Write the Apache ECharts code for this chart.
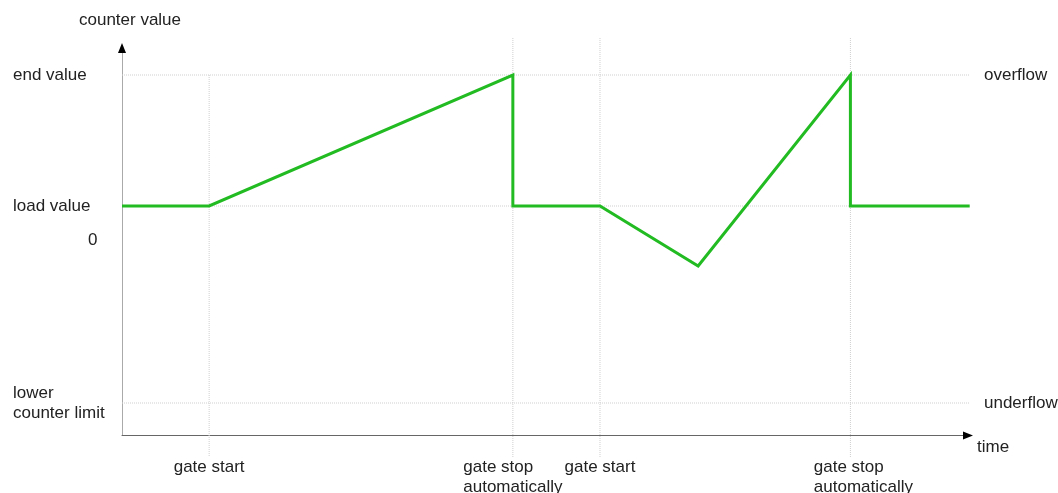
<!DOCTYPE html>
<html>
<head>
<meta charset="utf-8">
<script src="https://cdn.jsdelivr.net/npm/echarts@6/dist/echarts.min.js"></script>
<style>html,body{margin:0;padding:0;background:#fff;}#c{width:1058px;height:493px;}</style>
</head>
<body>
<div id="c"></div>
<script>
// ---- data ----
const times  = [0, 10.3, 46.2, 46.2, 56.5, 68.1, 86.1, 86.1, 100.2];
const counts = [3.4, 3.4, 16.5, 3.4, 3.4, -2.6, 16.5, 3.4, 3.4];

const yTickValues = [16.5, 3.4, 0, -16.3];
const yTickLabels = ['end value', 'load value', '0', 'lower\ncounter limit'];
const rightTickValues = [16.5, -16.3];
const rightTickLabels = ['overflow', 'underflow'];
const xTickValues = [10.3, 46.2, 56.5, 86.1];
const xTickLabels = ['gate start', 'gate stop\nautomatically', 'gate start', 'gate stop\nautomatically'];

const hGuideValues = [16.5, 3.4, -16.3];
const hGuideRange = [0, 100.2];
const vGuideValues = [10.3, 46.2, 56.5, 86.1];
const vGuideTops = [16.5, 20.2, 20.2, 20.2];
const vGuideBottom = -21.7;

const yMin = -19.55, yMax = 19.2, xMin = 0, xMax = 100;

// ---- styles ----
const FONT = "'Liberation Sans', Arial, sans-serif";
const TXT = '#222';
const GUIDE = { color: '#cfcfcf', width: 1, type: 'dotted' };
const xLabelStyleKeys = ['l', 'l', 'l', 'r'];

const chart = echarts.init(document.getElementById('c'));

const guideSeries = [];
hGuideValues.forEach(v => guideSeries.push({
  type: 'line', symbol: 'none', silent: true, clip: false, z: 1,
  lineStyle: GUIDE, data: [[hGuideRange[0], v], [hGuideRange[1], v]]
}));
vGuideValues.forEach((x, i) => guideSeries.push({
  type: 'line', symbol: 'none', silent: true, clip: false, z: 1,
  lineStyle: GUIDE, data: [[x, vGuideTops[i]], [x, vGuideBottom]]
}));

const option = {
  animation: false,
  textStyle: { fontFamily: FONT },
  grid: { left: 122, right: 90, top: 48, bottom: 57.5, outerBoundsMode: 'none' },
  xAxis: [{
    type: 'value', min: xMin, max: xMax,
    name: 'time', nameLocation: 'end', nameGap: 9,
    nameTextStyle: { color: TXT, fontSize: 17, fontFamily: FONT, verticalAlign: 'top', padding: [3, 0, 0, 0] },
    axisLine: { show: true, onZero: false, lineStyle: { color: '#666', width: 1 } },
    axisTick: { show: false }, splitLine: { show: false },
    axisLabel: {
      show: true, customValues: xTickValues, margin: 22, hideOverlap: false,
      formatter: v => {
        const i = xTickValues.indexOf(v);
        const k = xLabelStyleKeys[i];
        return xTickLabels[i].split('\n').map(s => '{' + k + '|' + s + '}').join('\n');
      },
      rich: {
        l: { align: 'left', fontSize: 17, lineHeight: 20, color: TXT, fontFamily: FONT },
        r: { align: 'left', fontSize: 17, lineHeight: 20, color: TXT, fontFamily: FONT, padding: [0, 0, 0, 26] }
      }
    }
  }, {
    type: 'value', min: xMin, max: xMax, position: 'bottom',
    axisLine: { show: true, onZero: false, symbol: ['none', 'triangle'], symbolSize: [8, 10], lineStyle: { color: '#000', width: 0 } },
    axisTick: { show: false }, splitLine: { show: false }, axisLabel: { show: false }
  }],
  yAxis: [{
    type: 'value', min: yMin, max: yMax, position: 'left',
    name: 'counter value', nameLocation: 'end', nameGap: 19,
    nameTextStyle: { color: TXT, fontSize: 17, fontFamily: FONT, padding: [0, 0, 0, 16] },
    axisLine: { show: true, onZero: false, lineStyle: { color: '#aaa', width: 1 } },
    axisTick: { show: false }, splitLine: { show: false },
    axisLabel: {
      show: true, customValues: yTickValues, align: 'left', margin: 109, hideOverlap: false,
      color: TXT, fontSize: 17, lineHeight: 20, fontFamily: FONT,
      formatter: v => { const t = yTickLabels[yTickValues.indexOf(v)]; return t === '0' ? '{z|0}' : t; },
      rich: { z: { padding: [0, 0, 0, 75], fontSize: 17, color: TXT, fontFamily: FONT } }
    }
  }, {
    type: 'value', min: yMin, max: yMax, position: 'right',
    axisLine: { show: false }, axisTick: { show: false }, splitLine: { show: false },
    axisLabel: {
      show: true, customValues: rightTickValues, align: 'left', margin: 16, hideOverlap: false,
      color: TXT, fontSize: 17, fontFamily: FONT,
      formatter: v => rightTickLabels[rightTickValues.indexOf(v)]
    }
  }, {
    type: 'value', min: yMin, max: yMax, position: 'left', offset: 0,
    axisLine: { show: true, onZero: false, symbol: ['none', 'triangle'], symbolSize: [8, 10], lineStyle: { color: '#000', width: 0 } },
    axisTick: { show: false }, splitLine: { show: false }, axisLabel: { show: false }
  }],
  series: guideSeries.concat([{
    type: 'line', symbol: 'none', clip: false, z: 5,
    lineStyle: { color: '#22bb22', width: 3, join: 'miter' },
    data: times.map((t, i) => [t, counts[i]])
  }])
};
chart.setOption(option);
</script>
</body>
</html>
